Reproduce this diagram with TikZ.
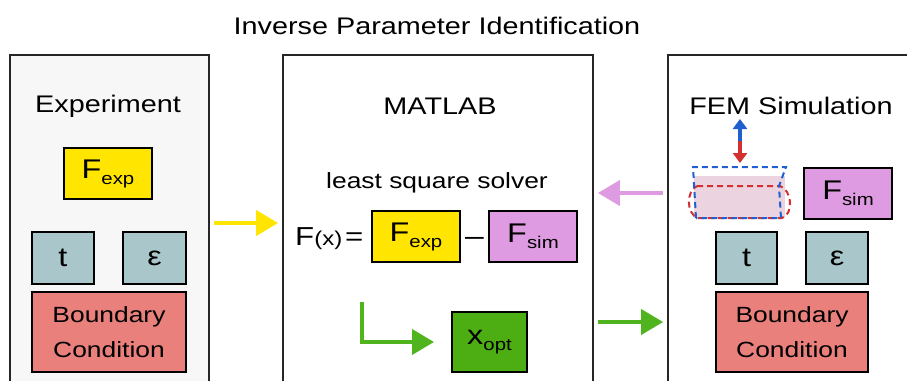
\documentclass[tikz,border=0pt]{standalone}
\usepackage{fontspec}
\setmainfont{Liberation Sans}[FakeStretch=1.2]
\usetikzlibrary{arrows.meta}

\definecolor{expyellow}{HTML}{FFE500}
\definecolor{simviolet}{HTML}{DF9BE1}
\definecolor{paramgray}{HTML}{A9C7CA}
\definecolor{bcred}{HTML}{E9807C}
\definecolor{optgreen}{HTML}{4DAE14}
\definecolor{arrowgreen}{HTML}{50B41E}
\definecolor{specpink}{HTML}{EBD3E0}
\definecolor{panelgray}{HTML}{F7F7F7}
\definecolor{dispblue}{HTML}{1F5FD0}
\definecolor{dispred}{HTML}{D43030}

% lowered subscript for the force labels
\newcommand{\low}[1]{\raisebox{-6pt}{\fontsize{17}{17}\selectfont #1}}

\tikzset{
	panel/.style={draw=black!85, line width=1.8pt, minimum width=#1, minimum height=370pt, inner sep=0pt},
	cell/.style 2 args={draw, line width=2pt, minimum width=#1, minimum height=#2, inner sep=0pt, font=\fontsize{27}{30}\selectfont},
	heading/.style={anchor=base, font=\fontsize{24}{28}\selectfont},
	bctext/.style={align=center, font=\fontsize{22}{35}\selectfont},
	flow/.style={line width=4pt, -{Triangle[length=22pt, width=25pt]}, shorten <=4pt, shorten >=4pt},
	disp/.style={line width=4pt, -{Triangle[length=10pt, width=14pt]}},
	outline/.style={line width=2pt, dash pattern=on 6pt off 4pt},
}

\begin{document}
\begin{tikzpicture}[x=1pt, y=-1pt]

	\useasboundingbox (0,0) rectangle (907,380);

	\node[heading] (title) at (437,34) {Inverse Parameter Identification};

	% the three panels run off the bottom edge
	\node[panel=199pt, fill=panelgray] (exppanel) at (109.5,240) {};
	\node[panel=310pt, fill=white] (matpanel) at (438,240) {};
	\node[panel=300pt, fill=white] (fempanel) at (818,240) {};

	% experiment
	\node[heading] (exptitle) at (108,112) {Experiment};
	\node[cell={88pt}{51pt}, fill=expyellow] (fexpL) at (108,173.5) {F\low{exp}};
	\node[cell={62pt}{52pt}, fill=paramgray] (tL) at (63,258) {t};
	\node[cell={63pt}{52pt}, fill=paramgray] (epsL) at (154.5,258) {ε};
	\node[cell={154pt}{80pt}, fill=bcred, bctext] (bcL) at (109,332) {Boundary\\Condition};

	% matlab
	\node[heading] (mattitle) at (440,114) {MATLAB};
	\node[anchor=base, font=\fontsize{22}{26}\selectfont] (lsq) at (437,188) {least square solver};
	\node[anchor=base west, inner sep=0pt, font=\fontsize{26}{30}\selectfont] (fx) at (295,245) {F{\fontsize{20}{20}\selectfont(x)}\hspace{3pt}=};
	\node[cell={88pt}{51pt}, fill=expyellow] (fexpM) at (416,236.5) {F\low{exp}};
	\node[font=\fontsize{28}{30}\selectfont] (minus) at (474.5,241) {\textendash};
	\node[cell={88pt}{51pt}, fill=simviolet] (fsimM) at (533,236.5) {F\low{sim}};
	\node[cell={75pt}{60pt}, fill=optgreen] (xopt) at (489.5,342) {x\low{opt}};
	\coordinate (turn) at (362,302);
	\draw[line width=4pt, arrowgreen, -{Triangle[length=22pt, width=25pt]}, shorten >=17pt] (turn) |- (xopt.west);

	% fem simulation
	\node[heading] (femtitle) at (791,114) {FEM Simulation};
	\node[cell={88pt}{51pt}, fill=simviolet] (fsimR) at (848,193.5) {F\low{sim}};
	\node[cell={61pt}{52pt}, fill=paramgray] (tR) at (746.5,258) {t};
	\node[cell={62pt}{52pt}, fill=paramgray] (epsR) at (837,258) {ε};
	\node[cell={152pt}{80pt}, fill=bcred, bctext] (bcR) at (792,332) {Boundary\\Condition};

	% specimen, stretched (blue) and compressed (red)
	\fill[specpink] (694,176) rectangle (785,218);
	\draw[outline, dispred] (697,186) -- (780,186) .. controls (792,190) and (794,214) .. (782,218)
		-- (698,218) .. controls (686,214) and (686,191) .. (697,186);
	\draw[outline, dispblue] (696,218) -- (693,167) -- (786,167) -- (779,186) -- (781,218) -- cycle;

	\coordinate (mid) at (740,141);
	\coordinate (up) at (740,119);
	\coordinate (down) at (740,163);
	\draw[disp, dispblue] (mid) -- (up);
	\draw[disp, dispred] (mid) -- (down);

	% data flow between panels
	\draw[flow, expyellow] (exppanel.east |- 0,223) -- (matpanel.west |- 0,223);
	\draw[flow, simviolet] (fempanel.west |- 0,193) -- (matpanel.east |- 0,193);
	\draw[flow, arrowgreen] (matpanel.east |- 0,322) -- (fempanel.west |- 0,322);

\end{tikzpicture}
\end{document}
